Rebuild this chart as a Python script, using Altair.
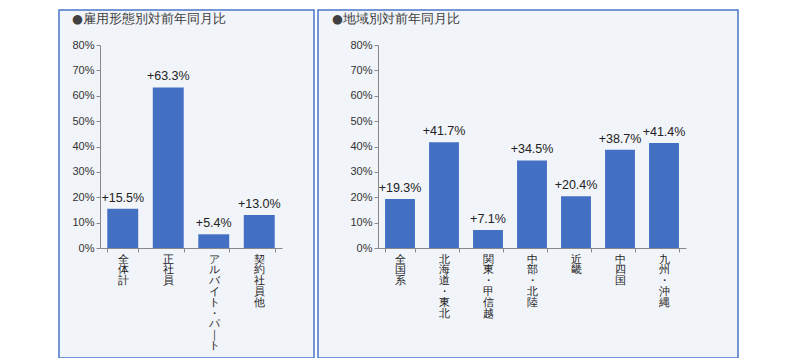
import altair as alt
import pandas as pd

# --- data ---
emp_categories = ["全体計", "正社員", "アルバイト・パート", "契約社員他"]
emp_values = [15.5, 63.3, 5.4, 13.0]

reg_categories = ["全国系", "北海道・東北", "関東・甲信越", "中部・北陸", "近畿", "中四国", "九州・沖縄"]
reg_values = [19.3, 41.7, 7.1, 34.5, 20.4, 38.7, 41.4]

y_ticks = [0, 10, 20, 30, 40, 50, 60, 70, 80]

left_title = "●雇用形態別対前年同月比"
right_title = "●地域別対前年同月比"

BAR = "#4470c4"
BG = "#f1f4f9"
BORDER = "#4a76c8"
FONT = "DejaVu Sans"
NUMFONT = "Liberation Sans"


def panel(cats, vals, title, w, h, fl, fr, ft, fb, tx):
    df = pd.DataFrame({"cat": cats, "v": vals})
    base = alt.Chart(df)
    frame = base.mark_rect(fill=BG, stroke=BORDER, strokeWidth=1.5).encode(
        x=alt.value(fl), x2=alt.value(w + fr), y=alt.value(ft), y2=alt.value(h + fb)
    ).transform_filter("datum.cat == '" + cats[0] + "'")
    ttl = base.mark_text(
        text=title, align="left", baseline="middle", fontSize=12.5,
        color="#404040", font=FONT
    ).encode(x=alt.value(tx), y=alt.value(-26)).transform_filter(
        "datum.cat == '" + cats[0] + "'")
    xenc = alt.X(
        "cat:N", sort=cats, title=None,
        scale=alt.Scale(paddingInner=0.32, paddingOuter=0.16),
        axis=alt.Axis(
            labelAngle=0, zindex=1, domainColor="#888888", tickColor="#888888",
            tickBand="extent", tickSize=4, labelFontSize=10.5, labelFont=FONT,
            labelColor="#222222", labelLineHeight=10.8, labelPadding=2,
            labelBaseline="top", labelOverlap=False,
            labelExpr="split(replace(datum.label, 'ー', '｜'), '')",
        ),
    )
    yenc = alt.Y(
        "v:Q", title=None,
        scale=alt.Scale(domain=[0, 80], nice=False),
        axis=alt.Axis(
            values=y_ticks, labelExpr="datum.value + '%'", grid=False, zindex=1,
            domainColor="#888888", tickColor="#888888", tickSize=4,
            labelFontSize=11, labelFont=NUMFONT, labelColor="#333333", labelPadding=2,
            labelOverlap=False,
        ),
    )
    bars = base.mark_bar(color=BAR).encode(x=xenc, y=yenc)
    labels = base.transform_calculate(
        lab="'+' + format(datum.v, '.1f') + '%'"
    ).mark_text(
        baseline="bottom", dy=-4, fontSize=12.5, font=NUMFONT, color="#222222"
    ).encode(x=xenc, y=yenc, text="lab:N")
    return alt.layer(frame, ttl, bars, labels).properties(width=w, height=h)


left = panel(emp_categories, emp_values, left_title, 182, 203, -41, 32, -35, 110, -28)
right = panel(reg_categories, reg_values, right_title, 308, 203, -60, 52, -35, 110, -46)

chart = alt.hconcat(left, right, spacing=0).properties(
    padding={"left": 49, "top": 0, "right": 0, "bottom": 0}
).configure_view(stroke=None).configure(background="white")

chart.save("out.html", embed_options={"renderer": "svg", "actions": False})
